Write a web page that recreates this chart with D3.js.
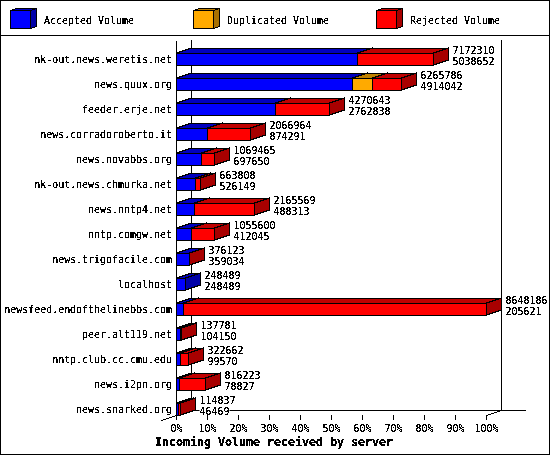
<!DOCTYPE html>
<html>
<head>
<meta charset="utf-8">
<script src="https://cdn.jsdelivr.net/npm/d3@7"></script>
<style>
  html, body { margin: 0; padding: 0; background: #fff; }
  svg { display: block; }
  /* 9.967px gives an advance of exactly 6px, so glyphs sit the same way along a label */
  text { font-family: "DejaVu Sans Mono", monospace; font-size: 9.967px; fill: #000; }
</style>
</head>
<body>
<div class="canva"></div>
<script>
//chart values
const servers = ['nk-out.news.weretis.net', 'news.quux.org', 'feeder.erje.net', 'news.corradoroberto.it',
  'news.novabbs.org', 'nk-out.news.chmurka.net', 'news.nntp4.net', 'nntp.comgw.net', 'news.trigofacile.com',
  'localhost', 'newsfeed.endofthelinebbs.com', 'peer.alt119.net', 'nntp.club.cc.cmu.edu', 'news.i2pn.org',
  'news.snarked.org'];
const totalVolume = [7172310, 6265786, 4270643, 2066964, 1069465, 663808, 2165569, 1055600, 376123, 248489,
  8648186, 137781, 322662, 816223, 114837];
const acceptedVolume = [5038652, 4914042, 2762838, 874291, 697650, 526149, 488313, 412045, 359034, 248489,
  205621, 104150, 99570, 78827, 46469];
const duplicatedVolume = [0, 545000, 0, 0, 0, 0, 0, 0, 0, 0, 0, 0, 0, 0, 0];
const percentTicks = [0, 10, 20, 30, 40, 50, 60, 70, 80, 90, 100];
const seriesNames = ['Accepted Volume', 'Duplicated Volume', 'Rejected Volume'];
const seriesColors = ['#0000ff', '#ffaa00', '#ff0000'];
const chartTitle = 'Incoming Volume received by server';

const width = 550, height = 455;
const depth = {x: 15, y: 5};
const barHeight = 12;

//add svg element
const svg = d3.select('.canva').append('svg')
              .attr('width', width)
              .attr('height', height);

//hard edged text, the original is a bitmap font
//region is in local coords so keep it wide enough for translated groups
svg.append('defs').append('filter')
   .attr('id', 'hard')
   .attr('filterUnits', 'userSpaceOnUse')
   .attr('x', -width).attr('y', -height)
   .attr('width', width * 2).attr('height', height * 2)
   .attr('color-interpolation-filters', 'sRGB')
   .append('feComponentTransfer')
   .append('feFuncA')
   .attr('type', 'discrete')
   .attr('tableValues', '0 1 1');

const snap = v => Math.round(v - 0.5) + 0.5;
const shade = (c, k) => {
  const r = d3.rgb(c);
  return d3.rgb(r.r * k, r.g * k, r.b * k).formatHex();
};
const poly = (g, pts, fill) => g.append('polygon')
  .attr('points', pts.map(p => p.join(',')).join(' '))
  .attr('fill', fill)
  .attr('stroke', '#000')
  .attr('shape-rendering', 'crispEdges');
const line = (x1, y1, x2, y2) => svg.append('line')
  .attr('x1', x1).attr('y1', y1).attr('x2', x2).attr('y2', y2)
  .attr('stroke', '#000')
  .attr('shape-rendering', 'crispEdges');

//scales
const x = d3.scaleLinear().domain([0, 100]).range([176.5, 486.5]);
const y = d3.scaleBand().domain(servers).range([46.5, 421.5]);
const maxVolume = d3.max(totalVolume);
const pct = v => v / maxVolume * 100;

//frame and legend divider
svg.append('rect')
   .attr('x', 0.5).attr('y', 0.5)
   .attr('width', width - 1).attr('height', height - 1)
   .attr('fill', '#fff').attr('stroke', '#000')
   .attr('shape-rendering', 'crispEdges');
line(0, 35.5, width, 35.5);

//legend
const legendX = [10.5, 193.5, 376.5];
seriesNames.forEach((name, i) => {
  const g = svg.append('g');
  const lx = legendX[i], top = 10.5, w = 20, h = 18, dx = 6, dy = 2;
  poly(g, [[lx + w, top], [lx + w + dx, top - dy], [lx + w + dx, top + h - dy], [lx + w, top + h]], shade(seriesColors[i], 0.66));
  poly(g, [[lx, top], [lx + dx, top - dy], [lx + w + dx, top - dy], [lx + w, top]], shade(seriesColors[i], 0.75));
  poly(g, [[lx, top], [lx + w, top], [lx + w, top + h], [lx, top + h]], seriesColors[i]);
  g.append('text')
   .attr('x', lx + 33.5).attr('y', 24)
   .attr('filter', 'url(#hard)')
   .text(name);
});

//back walls and floor
line(x(0), 41, x(0), 420);
line(x(0) + depth.x, 40, x(0) + depth.x, 410);
line(x(100) + depth.x, 40, x(100) + depth.x, 410);
line(x(0) + depth.x, 410.5, 526, 410.5);
line(x(0) - depth.x, 420.5, x(0) + depth.x, 410.5);
line(x(100), 415.5, x(100) + depth.x, 410.5);

//bars, each row stacks accepted, duplicated, rejected
const rows = servers.map((name, i) => ({
  name,
  total: totalVolume[i],
  accepted: acceptedVolume[i],
  segments: [
    {v: acceptedVolume[i], c: seriesColors[0]},
    {v: duplicatedVolume[i], c: seriesColors[1]},
    {v: totalVolume[i] - acceptedVolume[i] - duplicatedVolume[i], c: seriesColors[2]}
  ]
}));

const row = svg.selectAll('g.row').data(rows).enter().append('g').attr('class', 'row');

row.each(function (d) {
  const g = d3.select(this);
  const top = y(d.name) + y.bandwidth() / 2 - 6;
  const bot = top + barHeight;
  let sum = 0;
  d.segments.forEach(s => {
    if (s.v <= 0) return;
    const x0 = snap(x(pct(sum)));
    sum += s.v;
    const x1 = snap(x(pct(sum)));
    poly(g, [[x1, top], [x1 + depth.x, top - depth.y], [x1 + depth.x, bot - depth.y], [x1, bot]], shade(s.c, 0.66));
    poly(g, [[x0, top], [x0 + depth.x, top - depth.y], [x1 + depth.x, top - depth.y], [x1, top]], shade(s.c, 0.75));
    poly(g, [[x0, top], [x1, top], [x1, bot], [x0, bot]], s.c);
  });

  //two value labels on white, they hide the floor line
  //half pixel start keeps the digits readable after the threshold
  const lx = snap(x(pct(d.total))) + depth.x + 4;
  [d.total, d.accepted].forEach((v, k) => {
    const label = String(v);
    g.append('rect')
     .attr('x', lx).attr('y', top - 8 + k * 11)
     .attr('width', label.length * 6).attr('height', 11)
     .attr('fill', '#fff');
    g.append('text')
     .attr('x', lx).attr('y', top + 1 + k * 11)
     .attr('filter', 'url(#hard)')
     .text(label);
  });
});

//axes
const xAxisGroup = svg.append('g')
  .attr('transform', 'translate(0, 415)')
  .call(d3.axisBottom(x).offset(0).tickValues(percentTicks).tickFormat(d => d + '%').tickSize(5).tickPadding(5));
const yAxisGroup = svg.append('g')
  .attr('transform', 'translate(176, 1)')
  .call(d3.axisLeft(y).offset(0).tickSize(0).tickPadding(4));

xAxisGroup.select('.domain').remove();
yAxisGroup.select('.domain').remove();
xAxisGroup.selectAll('line').attr('shape-rendering', 'crispEdges');
svg.selectAll('.tick text')
   .attr('filter', 'url(#hard)');
xAxisGroup.attr('font-family', null).attr('font-size', null);
yAxisGroup.attr('font-family', null).attr('font-size', null);

svg.append('text')
   .attr('x', 155).attr('y', 446)
   .attr('font-weight', 'bold')
   .style('font-size', '11.63px')
   .attr('filter', 'url(#hard)')
   .text(chartTitle);
</script>
</body>
</html>
